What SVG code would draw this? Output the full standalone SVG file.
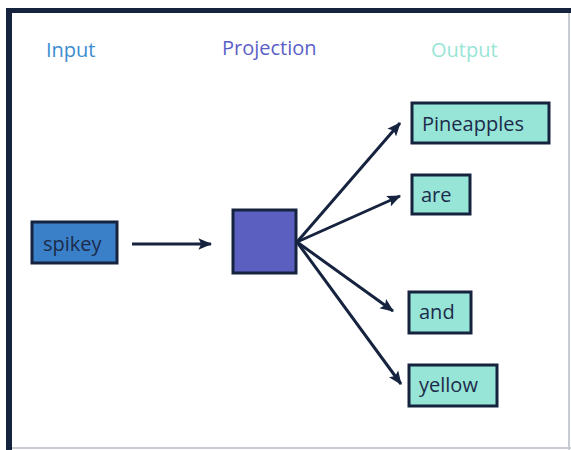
<svg xmlns="http://www.w3.org/2000/svg" width="571" height="450" viewBox="0 0 571 450">
  <style>
    .hdr { font-family: "Open Sans", "Noto Sans", sans-serif; font-size: 20px; }
    .lbl { font-family: "Open Sans", "Noto Sans", sans-serif; font-size: 20px; fill: #1c2b4b; }
    .box { stroke: #16233f; stroke-width: 3; }
    .out { fill: #97e5d6; }
    .edge { stroke: #16233f; stroke-width: 3; fill: none; marker-end: url(#arrow); }
  </style>
  <defs>
    <marker id="arrow" viewBox="0 0 12 10" refX="11" refY="5" markerWidth="4.6" markerHeight="4" markerUnits="strokeWidth" orient="auto">
      <path d="M0,0 L12,5 L0,10 L2.5,5 Z" fill="#16233f"/>
    </marker>
  </defs>

  <rect x="0" y="0" width="571" height="450" fill="#ffffff"/>
  <!-- slide frame: heavy top/left edge, thin grey right/bottom edge -->
  <path d="M6,450 V8 H571 V13 H12 V450 Z" fill="#16233f"/>
  <line x1="569" y1="13" x2="569" y2="450" stroke="#c9ccd3" stroke-width="2"/>
  <line x1="12" y1="448" x2="571" y2="448" stroke="#c9ccd3" stroke-width="2"/>

  <!-- column headings -->
  <text class="hdr" x="46" y="57" fill="#3b8dd0">Input</text>
  <text class="hdr" x="222" y="55" fill="#5b5fc7">Projection</text>
  <text class="hdr" x="431" y="57" fill="#97e5d6">Output</text>

  <!-- connectors -->
  <g id="connectors">
    <line class="edge" x1="132" y1="244" x2="211" y2="244"/>
    <line class="edge" x1="297" y1="242" x2="400" y2="123"/>
    <line class="edge" x1="297" y1="242" x2="400" y2="196"/>
    <line class="edge" x1="297" y1="242" x2="393" y2="311"/>
    <line class="edge" x1="297" y1="242" x2="401" y2="384"/>
  </g>

  <g id="spikey">
    <rect class="box" x="32" y="222" width="85" height="41" fill="#3a80c9"/>
    <text class="lbl" x="43" y="251">spikey</text>
  </g>

  <g id="projection">
    <rect class="box" x="233" y="210" width="63" height="63" fill="#5b5fc0"/>
  </g>

  <g id="pineapples">
    <rect class="box out" x="412" y="103" width="137" height="40"/>
    <text class="lbl" x="422" y="131">Pineapples</text>
  </g>

  <g id="are">
    <rect class="box out" x="412" y="175" width="58" height="39"/>
    <text class="lbl" x="421" y="202">are</text>
  </g>

  <g id="and">
    <rect class="box out" x="409" y="292" width="62" height="41"/>
    <text class="lbl" x="419" y="319">and</text>
  </g>

  <g id="yellow">
    <rect class="box out" x="409" y="365" width="88" height="41"/>
    <text class="lbl" x="419" y="392">yellow</text>
  </g>
</svg>
